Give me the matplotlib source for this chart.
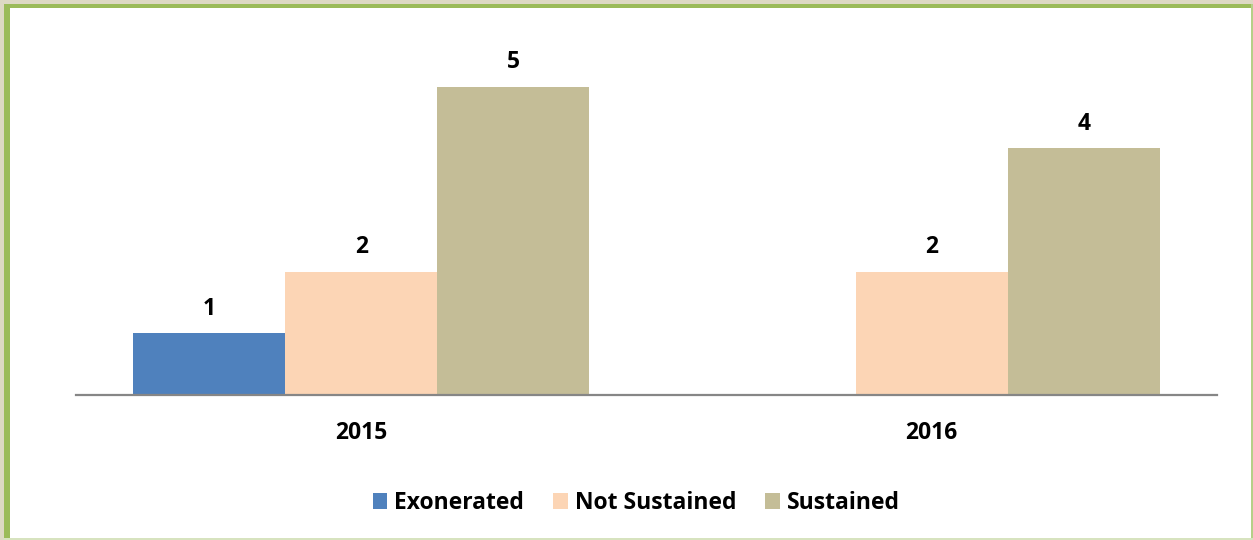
import matplotlib.pyplot as plt
import numpy as np
from matplotlib.patches import Rectangle

years = ['2015', '2016']
series = ['Exonerated', 'Not Sustained', 'Sustained']
exonerated = [1, 0]
not_sustained = [2, 2]
sustained = [5, 4]
colors = ['#4f81bd', '#fcd5b5', '#c4bd97']

plt.rcParams['font.family'] = ['Open Sans', 'DejaVu Sans']

W, H = 1253, 540
fig = plt.figure(figsize=(W / 100, H / 100), dpi=100)
fig.patch.set_facecolor('white')

# frame around the picture
def px_rect(x, y, w, h, color):
    fig.add_artist(Rectangle((x / W, 1 - (y + h) / H), w / W, h / H,
                             transform=fig.transFigure, color=color, lw=0))

px_rect(0, 0, W, 4, '#ddd9c3')
px_rect(0, 0, 4, H, '#ddd9c3')
px_rect(4, 4, W - 4, 4, '#9bbb59')
px_rect(4, 4, 6, H - 4, '#9bbb59')
px_rect(W - 2, 4, 2, H - 4, '#b5cf88')
px_rect(4, H - 2, W - 4, 2, '#d7e3bf')

ax = fig.add_axes([76 / W, (H - 395) / H, 1141 / W, 370 / H])

fs = 16.5
x = np.arange(len(years))
bw = 0.2665
values = [exonerated, not_sustained, sustained]
for i, (name, vals, c) in enumerate(zip(series, values, colors)):
    pos = x + (i - 1) * bw
    bars = ax.bar(pos, vals, width=bw, color=c, label=name, zorder=2)
    for b, v in zip(bars, vals):
        if v > 0:
            ax.annotate(str(v), (b.get_x() + b.get_width() / 2, v),
                        xytext=(0, 9), textcoords='offset points',
                        ha='center', va='bottom', fontsize=fs, fontweight='bold')

ax.set_xlim(-0.5, 1.5)
ax.set_ylim(0, 6)
ax.set_yticks([])
ax.set_xticks(x)
ax.set_xticklabels(years, fontsize=fs, fontweight='bold')
ax.tick_params(axis='x', length=0, pad=19)
for s in ['top', 'right', 'left']:
    ax.spines[s].set_visible(False)
ax.spines['bottom'].set_color('#868686')
ax.spines['bottom'].set_linewidth(1.6)
ax.spines['bottom'].set_zorder(3)

leg = fig.legend(loc='center', bbox_to_anchor=(636 / W, 1 - 503 / H), ncol=3,
                 frameon=False, prop={'size': fs, 'weight': 'bold'},
                 handlelength=0.65, handleheight=0.65, handletextpad=0.3,
                 columnspacing=1.25)

fig.savefig('out.png', dpi=100)
